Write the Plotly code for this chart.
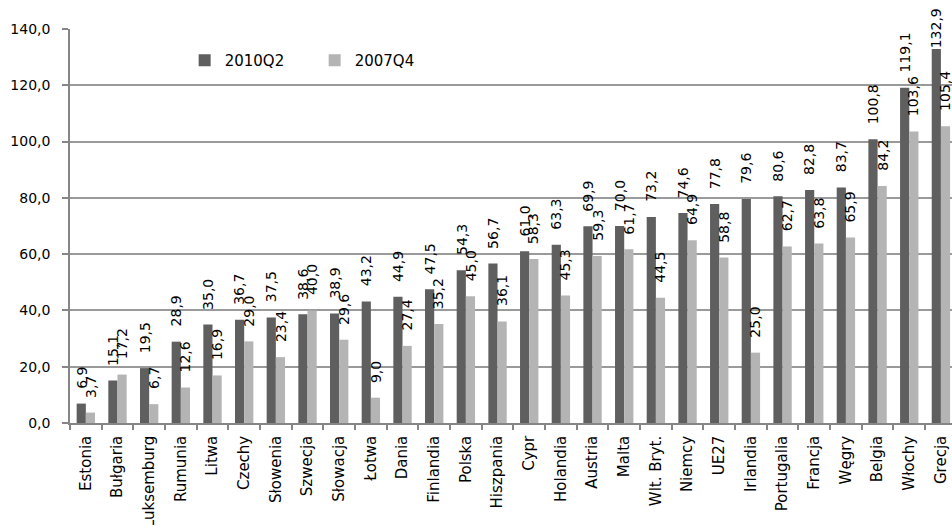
import plotly.graph_objects as go

# Countries, ordered by the 2010Q2 value
countries = ["Estonia", "Bułgaria", "Luksemburg", "Rumunia", "Litwa", "Czechy",
             "Słowenia", "Szwecja", "Słowacja", "Łotwa", "Dania", "Finlandia",
             "Polska", "Hiszpania", "Cypr", "Holandia", "Austria", "Malta",
             "Wlt. Bryt.", "Niemcy", "UE27", "Irlandia", "Portugalia", "Francja",
             "Węgry", "Belgia", "Włochy", "Grecja"]

debt_2010q2 = [6.9, 15.1, 19.5, 28.9, 35.0, 36.7, 37.5, 38.6, 38.9, 43.2, 44.9, 47.5,
               54.3, 56.7, 61.0, 63.3, 69.9, 70.0, 73.2, 74.6, 77.8, 79.6, 80.6, 82.8,
               83.7, 100.8, 119.1, 132.9]

debt_2007q4 = [3.7, 17.2, 6.7, 12.6, 16.9, 29.0, 23.4, 40.0, 29.6, 9.0, 27.4, 35.2,
               45.0, 36.1, 58.3, 45.3, 59.3, 61.7, 44.5, 64.9, 58.8, 25.0, 62.7, 63.8,
               65.9, 84.2, 103.6, 105.4]

series_names = ["2010Q2", "2007Q4"]
y_ticks = [0, 20, 40, 60, 80, 100, 120, 140]

DARK = "#5f5f5f"
LIGHT = "#b4b4b4"
FONT = "DejaVu Sans"
BARGAP = 0.42
Y_MAX = 140


def fmt(v):
    return f"{v:.1f}".replace(".", ",")


fig = go.Figure()
fig.add_trace(go.Bar(name=series_names[0], x=countries, y=debt_2010q2,
                     marker=dict(color=DARK, line=dict(width=0))))
fig.add_trace(go.Bar(name=series_names[1], x=countries, y=debt_2007q4,
                     marker=dict(color=LIGHT, line=dict(width=0))))

# Value labels: rotated, sitting a little above each bar; a label that would
# run past the top of the plot is pulled down onto its bar.
half = (1 - BARGAP) / 4
annotations = []
for offset, values in ((-half, debt_2010q2), (half, debt_2007q4)):
    for i, v in enumerate(values):
        shift = 0 if v + 19 > Y_MAX + 7 else 14
        annotations.append(dict(
            x=i + offset, y=v, xref="x", yref="y",
            text=fmt(v), showarrow=False, textangle=-90,
            xanchor="center", yanchor="bottom", yshift=shift,
            font=dict(family=FONT, size=14, color="#000000"),
            borderpad=0,
        ))

fig.update_layout(
    width=952, height=525,
    margin=dict(l=70, r=0, t=29, b=102, pad=0, autoexpand=False),
    paper_bgcolor="white", plot_bgcolor="white",
    separators=", ",
    barmode="group", bargap=BARGAP, bargroupgap=0,
    font=dict(family=FONT, size=14, color="#000000"),
    showlegend=True,
    legend=dict(orientation="h", x=0.13, y=0.92, xanchor="left", yanchor="middle",
                font=dict(family=FONT, size=15, color="#000000"),
                entrywidth=85, entrywidthmode="pixels",
                bgcolor="rgba(0,0,0,0)", itemclick=False),
    annotations=annotations,
    xaxis=dict(
        type="category", range=[-0.5, 27.35], automargin=False,
        tickson="boundaries", ticks="outside", ticklen=5, tickcolor="#868686",
        tickwidth=1.5,
        showline=True, linecolor="#868686", linewidth=1.5,
        showgrid=False, tickangle=-90, ticklabelstandoff=5,
        tickfont=dict(family=FONT, size=15, color="#000000"),
        fixedrange=True,
    ),
    yaxis=dict(
        range=[0, Y_MAX], tickvals=y_ticks, tickformat=".1f", automargin=False,
        ticks="outside", ticklen=6, tickcolor="#868686", tickwidth=1.5,
        showline=True, linecolor="#868686", linewidth=1.5,
        showgrid=True, gridcolor="#9a9a9a", gridwidth=1.5,
        zeroline=False, ticklabelstandoff=9,
        tickfont=dict(family=FONT, size=14, color="#000000"),
        fixedrange=True,
    ),
)

fig.write_html("out.html")
